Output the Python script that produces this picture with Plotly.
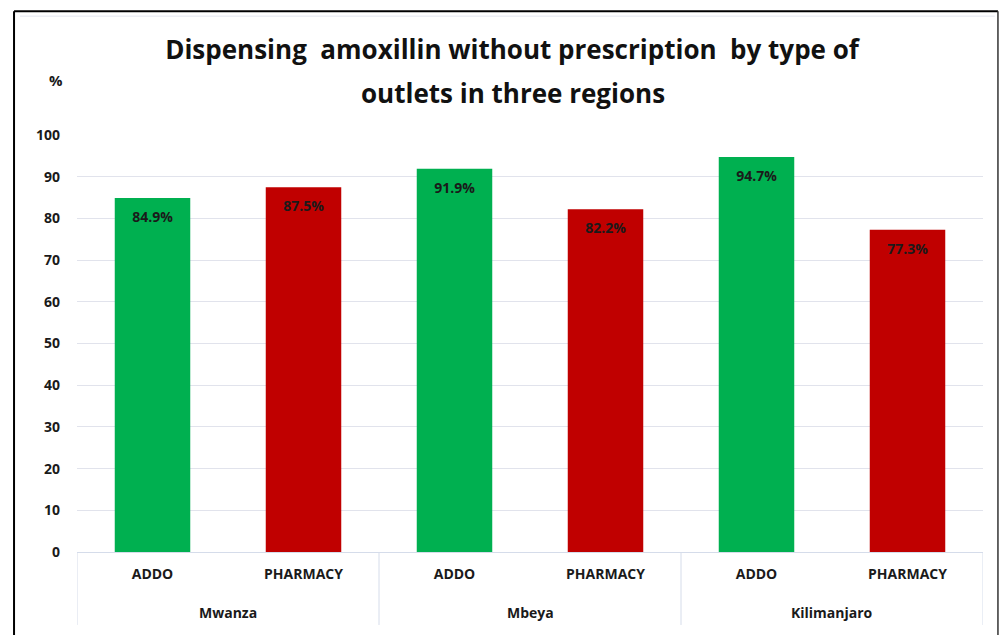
import plotly.graph_objects as go

regions = ["Mwanza", "Mwanza", "Mbeya", "Mbeya", "Kilimanjaro", "Kilimanjaro"]
outlets = ["ADDO", "PHARMACY", "ADDO", "PHARMACY", "ADDO", "PHARMACY"]
values = [84.9, 87.5, 91.9, 82.2, 94.7, 77.3]
labels = ["84.9%", "87.5%", "91.9%", "82.2%", "94.7%", "77.3%"]
colors = ["#00B050" if o == "ADDO" else "#C00000" for o in outlets]
y_ticks = list(range(0, 101, 10))
title_lines = ["Dispensing  amoxillin without prescription  by type of", "outlets in three regions"]

FONT = "Open Sans"
TXT = "#1a1a1a"
AXC = "#D5DCEA"

keys = [f"{r}|{o}" for r, o in zip(regions, outlets)]

fig = go.Figure()
fig.add_trace(go.Bar(
    x=keys,
    y=values,
    marker=dict(color=colors, line=dict(width=0)),
    width=0.5,
    showlegend=False,
    hoverinfo="skip",
))
# value labels placed just under the bar tops (invisible markers give the offset)
fig.add_trace(go.Scatter(
    x=keys,
    y=values,
    mode="markers+text",
    text=labels,
    textposition="bottom center",
    marker=dict(size=20, opacity=0),
    textfont=dict(family=FONT, size=14, color=TXT, weight="bold"),
    showlegend=False,
    hoverinfo="skip",
))

# group (region) labels and dividers for the two-level category axis
groups = []
for i, r in enumerate(regions):
    if not groups or groups[-1][0] != r:
        groups.append([r, i, i])
    else:
        groups[-1][2] = i

annotations = [
    dict(
        text="%", xref="paper", yref="paper", x=-0.023, y=1.132,
        xanchor="center", yanchor="middle",
        showarrow=False, font=dict(family=FONT, size=15, color=TXT, weight="bold"),
    ),
    dict(
        text=title_lines[1], xref="paper", yref="paper", x=0.4813, y=1.1007,
        xanchor="center", yanchor="middle", showarrow=False,
        font=dict(family=FONT, size=26, color="#111111", weight="bold"),
    ),
]
shapes = []
for name, i0, i1 in groups:
    annotations.append(dict(
        text=name, xref="x", yref="paper", x=(i0 + i1) / 2, y=-0.144,
        xanchor="center", yanchor="middle", showarrow=False,
        font=dict(family=FONT, size=14, color=TXT, weight="bold"),
    ))
bounds = [g[1] - 0.5 for g in groups] + [groups[-1][2] + 0.5]
for b in bounds:
    shapes.append(dict(type="line", xref="x", yref="paper", x0=b, x1=b, y0=0, y1=-0.175,
                       line=dict(color=AXC, width=1)))

shapes += [
    dict(type="line", xref="paper", yref="paper", x0=-0.0695, x1=-0.0695, y0=1.297, y1=-0.3,
         line=dict(color="black", width=2)),
    dict(type="line", xref="paper", yref="paper", x0=-0.0695, x1=1.0165, y0=1.297, y1=1.297,
         line=dict(color="black", width=2)),
    dict(type="line", xref="paper", yref="paper", x0=1.0165, x1=1.0165, y0=1.297, y1=-0.3,
         line=dict(color="#333333", width=1.5)),
    dict(type="line", xref="paper", yref="paper", x0=-0.063, x1=1.013, y0=1.285, y1=1.285,
         line=dict(color="#E3E6F0", width=1)),
]

fig.update_layout(
    width=1006, height=635,
    paper_bgcolor="white", plot_bgcolor="white",
    margin=dict(l=77, r=23, t=135, b=83),
    font=dict(family=FONT, color=TXT),
    title=dict(
        text=title_lines[0],
        x=0.509, xanchor="center", xref="container",
        y=1 - 50 / 635, yanchor="middle", yref="container",
        font=dict(family=FONT, size=26, color="#111111", weight="bold"),
    ),
    xaxis=dict(
        type="category",
        tickvals=keys, ticktext=outlets,
        range=[-0.5, len(keys) - 0.5],
        showline=True, linecolor=AXC, linewidth=1,
        tickfont=dict(family=FONT, size=14, color=TXT, weight="bold"),
        ticks="", showgrid=False, ticklabelstandoff=9,
    ),
    yaxis=dict(
        range=[0, 100], tickvals=y_ticks, showgrid=True, gridcolor="#E1E3EC", gridwidth=1,
        zeroline=False, showline=False, ticks="",
        tickfont=dict(family=FONT, size=14, color=TXT, weight="bold"),
        ticklabelstandoff=16,
    ),
    annotations=annotations,
    shapes=shapes,
)

fig.write_html(
    "out.html",
    config={"displayModeBar": False},
    post_script="document.body.style.margin='0';document.body.style.overflow='hidden';",
)
